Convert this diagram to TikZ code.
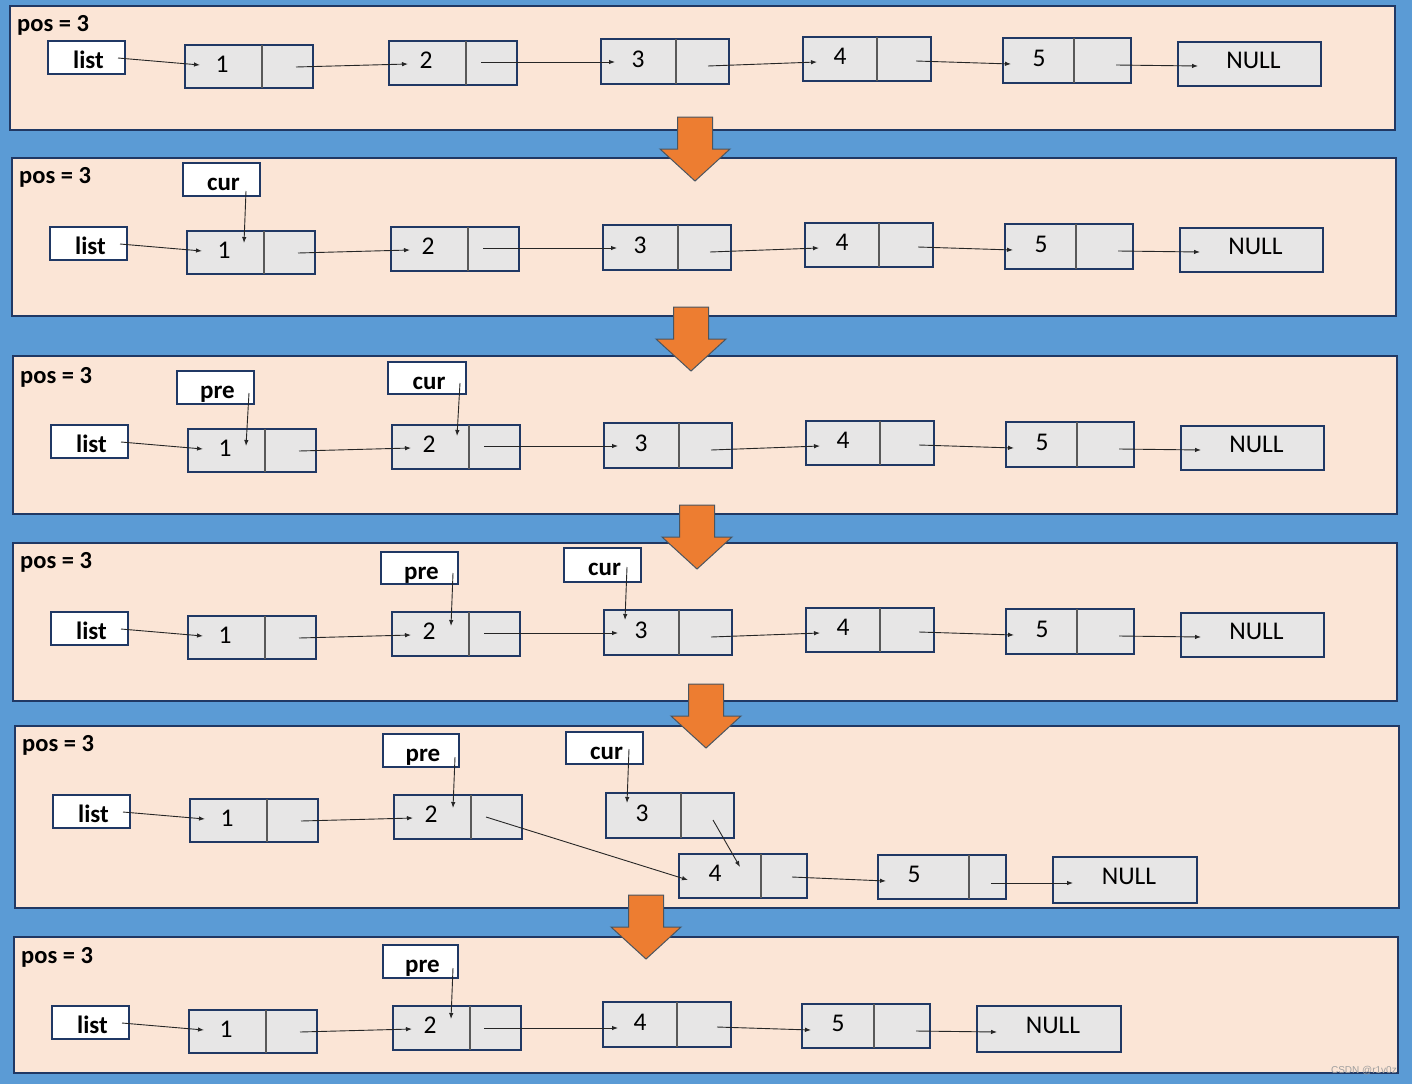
\documentclass[tikz,border=0pt]{standalone}
\usepackage{fontspec}
\setmainfont{Carlito}
\newfontfamily\wmfont{Liberation Sans}
\usetikzlibrary{arrows.meta}
\definecolor{bgblue}{HTML}{5B9BD5}
\definecolor{panelfill}{HTML}{FBE5D6}
\definecolor{navy}{HTML}{203864}
\definecolor{cellgray}{HTML}{E7E6E6}
\definecolor{orng}{HTML}{ED7D31}
\definecolor{divgray}{HTML}{595959}
\definecolor{arrowedge}{HTML}{4A5560}
\tikzset{
  panel/.style={draw=navy, fill=panelfill, line width=1.1pt},
  cell/.style={draw=navy, fill=cellgray, line width=1.1pt, inner sep=0pt, outer sep=0pt},
  ptrbox/.style={draw=navy, fill=white, line width=1.1pt, inner sep=0pt, outer sep=0pt},
  divider/.style={draw=divgray, line width=1.3pt},
  link/.style={draw=black!85, line width=0.9pt, -{Latex[length=6pt,width=4.5pt]}},
  numtxt/.style={font=\fontsize{25.5}{28}\selectfont, anchor=base, inner sep=0pt},
  boldtxt/.style={font=\bfseries\fontsize{25}{28}\selectfont, anchor=base, inner sep=0pt},
  postxt/.style={font=\bfseries\fontsize{24.5}{28}\selectfont, anchor=base west, inner sep=0pt},
  bigarrow/.style={fill=orng, draw=arrowedge, line width=1pt, line join=miter},
}
% name, x, y, height, divider offset, text offset, label
\newcommand\cellnode[7]{%
  \node[cell, minimum width=128pt, minimum height=#4pt, anchor=north west] (#1) at (#2,#3) {};
  \draw[divider] ([xshift=#5pt]#1.north west) -- ([xshift=#5pt]#1.south west);
  \node[numtxt] (#1t) at ([xshift=#6pt,yshift=-5.5pt]#1.west) {#7};}
% name, x, y, width, height
\newcommand\nullnode[5]{%
  \node[cell, minimum width=#4pt, minimum height=#5pt, anchor=north west] (#1) at (#2,#3) {};
  \node[numtxt] (#1t) at ([xshift=4pt,yshift=-4pt]#1.center) {NULL};}
% name, x, y, width, height, text
\newcommand\ptrnode[6]{%
  \node[ptrbox, minimum width=#4pt, minimum height=#5pt, anchor=north west] (#1) at (#2,#3) {};
  \node[boldtxt] (#1t) at ([xshift=2pt,yshift=-27.5pt]#1.north) {#6};}
% list, node 1, node 2 (layout of the third panel)
\newcommand\firstpart[1]{%
  \ptrnode{#1list}{51}{425}{77}{33}{list}
  \cellnode{#1n1}{188}{429}{43}{77}{37}{1}
  \cellnode{#1n2}{392}{425}{44}{77}{37}{2}
  \coordinate (#1ls) at (121,442); \coordinate (#1le) at (203,449);
  \coordinate (#1oa) at (299,451); \coordinate (#1ib) at (411,448);
  \draw[link] (#1ls) -- (#1le);
  \draw[link] (#1oa) -- (#1ib);}
% node 3, 4, 5, NULL (layout of the third panel)
\newcommand\restpart[1]{%
  \cellnode{#1n3}{604}{423}{45}{75}{37}{3}
  \cellnode{#1n4}{806}{421}{44}{74}{37}{4}
  \cellnode{#1n5}{1006}{422}{45}{71}{36}{5}
  \nullnode{#1null}{1181}{426}{143}{44}
  \coordinate (#1ob) at (484,446); \coordinate (#1ic) at (618,446);
  \coordinate (#1oc) at (711,450); \coordinate (#1id) at (820,446);
  \coordinate (#1od) at (919,445); \coordinate (#1ie) at (1014,448);
  \coordinate (#1oe) at (1119,449); \coordinate (#1in) at (1201,450);
  \draw[link] (#1ob) -- (#1ic);
  \draw[link] (#1oc) -- (#1id);
  \draw[link] (#1od) -- (#1ie);
  \draw[link] (#1oe) -- (#1in);}
\newcommand\bigdown[2]{%
  \draw[bigarrow] (#1-17.5,#2) -- (#1+17.5,#2) -- (#1+17.5,#2+32) -- (#1+35,#2+32)
    -- (#1,#2+64) -- (#1-35,#2+32) -- (#1-17.5,#2+32) -- cycle;}
\begin{document}
\begin{tikzpicture}[x=1pt,y=-1pt]
\useasboundingbox (0,0) rectangle (1412,1084);
\fill[bgblue] (0,0) rectangle (1412,1084);
% panels
\draw[panel] (10,6) rectangle (1395,130);
\draw[panel] (12,158) rectangle (1396,316);
\draw[panel] (13,356) rectangle (1397,514);
\draw[panel] (13,543) rectangle (1397,701);
\draw[panel] (15,726) rectangle (1399,908);
\draw[panel] (14,937) rectangle (1398,1073);
% headings
\node[postxt] (p1pos) at (17,31) {pos = 3};
\node[postxt] (p2pos) at (19,183) {pos = 3};
\node[postxt] (p3pos) at (20,383) {pos = 3};
\node[postxt] (p4pos) at (20,568) {pos = 3};
\node[postxt] (p5pos) at (22,751) {pos = 3};
\node[postxt] (p6pos) at (21,963) {pos = 3};
% panel 1
\begin{scope}[shift={(-3,-384)}]
  \firstpart{a}\restpart{a}
\end{scope}
% panel 2
\begin{scope}[shift={(-1,-198)}]
  \firstpart{b}\restpart{b}
\end{scope}
\ptrnode{bcur}{183}{163}{77}{33}{cur}
\coordinate (bcs) at (246,191); \coordinate (bce) at (244,243);
\draw[link] (bcs) -- (bce);
% panel 3
\firstpart{c}\restpart{c}
\ptrnode{cpre}{177}{371}{77}{33}{pre}
\ptrnode{ccur}{388}{362}{78}{32}{cur}
\coordinate (cps) at (249,393); \coordinate (cpe) at (246,446);
\coordinate (ccs) at (460,383); \coordinate (cce) at (457,436);
\draw[link] (cps) -- (cpe);
\draw[link] (ccs) -- (cce);
% panel 4
\begin{scope}[shift={(0,187)}]
  \firstpart{d}\restpart{d}
\end{scope}
\ptrnode{dpre}{381}{552}{77}{32}{pre}
\ptrnode{dcur}{564}{548}{77}{34}{cur}
\coordinate (dps) at (453,573); \coordinate (dpe) at (451,626);
\coordinate (dcs) at (627,567); \coordinate (dce) at (625,620);
\draw[link] (dps) -- (dpe);
\draw[link] (dcs) -- (dce);
% panel 5
\begin{scope}[shift={(2,370)}]
  \firstpart{e}
\end{scope}
\cellnode{en3}{606}{793}{45}{75}{36}{3}
\cellnode{en4}{679}{854}{44}{82}{36}{4}
\cellnode{en5}{878}{855}{44}{91}{36}{5}
\nullnode{enull}{1053}{857}{144}{46}
\ptrnode{epre}{383}{734}{76}{33}{pre}
\ptrnode{ecur}{566}{732}{77}{32}{cur}
\coordinate (eob) at (486,817); \coordinate (eid) at (688,880);
\coordinate (eoc) at (713,820); \coordinate (eid2) at (740,867);
\coordinate (eod) at (792,877); \coordinate (eie) at (886,881);
\coordinate (eoe) at (991,883); \coordinate (ein) at (1073,883);
\coordinate (eps) at (455,757); \coordinate (epe) at (453,808);
\coordinate (ecs) at (629,749); \coordinate (ece) at (627,803);
\draw[link] (eob) -- (eid);
\draw[link] (eoc) -- (eid2);
\draw[link] (eod) -- (eie);
\draw[link] (eoe) -- (ein);
\draw[link] (eps) -- (epe);
\draw[link] (ecs) -- (ece);
% panel 6
\begin{scope}[shift={(1,581)}]
  \firstpart{f}
\end{scope}
\cellnode{fn4}{603}{1002}{45}{74}{37}{4}
\cellnode{fn5}{802}{1004}{44}{72}{36}{5}
\nullnode{fnull}{977}{1006}{144}{46}
\ptrnode{fpre}{383}{945}{75}{33}{pre}
\coordinate (fob) at (484,1028); \coordinate (fid) at (618,1028);
\coordinate (fod) at (717,1027); \coordinate (fie) at (811,1030);
\coordinate (foe) at (916,1031); \coordinate (fin) at (997,1032);
\coordinate (fps) at (453,968); \coordinate (fpe) at (451,1019);
\draw[link] (fob) -- (fid);
\draw[link] (fod) -- (fie);
\draw[link] (foe) -- (fin);
\draw[link] (fps) -- (fpe);
% big orange arrows
\bigdown{695}{117}
\bigdown{691}{307}
\bigdown{697}{505}
\bigdown{706}{684}
\bigdown{646}{895}
% watermark
\node[font=\wmfont\fontsize{10}{12}\selectfont, text=gray!75, anchor=base east, inner sep=0pt] (wm) at (1397,1073) {CSDN @r1v0z};
\end{tikzpicture}
\end{document}
